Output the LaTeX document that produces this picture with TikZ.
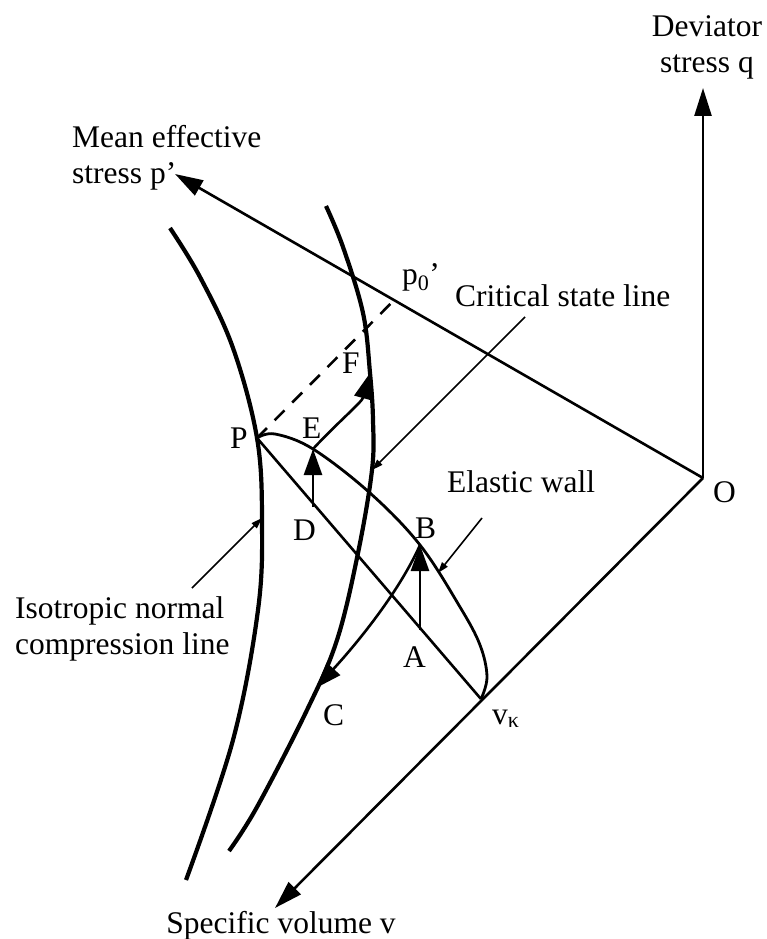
\documentclass[tikz,border=0pt]{standalone}
\usepackage{fontspec}
\setmainfont{Liberation Serif}
\usetikzlibrary{arrows.meta,calc}
\begin{document}
\begin{tikzpicture}[x=1pt,y=-1pt,
  axis/.style={line width=2.6pt,-{Triangle[length=28pt,width=17pt]}},
  thick curve/.style={line width=4.2pt},
  wall/.style={line width=2.8pt},
  pathline/.style={line width=2.6pt},
  move/.style={line width=2.6pt,-{Triangle[length=26pt,width=18pt]}},
  note/.style={line width=1.6pt,-{Triangle[length=11pt,width=7pt]}},
  lbl/.style={font=\fontsize{31.5}{36}\selectfont,inner sep=0pt}]
\useasboundingbox (0,0) rectangle (766,939);

% key points
\coordinate (O) at (703,478);
\coordinate (qtip) at (703,88);
\coordinate (ptip) at (175,174);
\coordinate (vtip) at (275,908);
\coordinate (p0) at ($(O)!0.585!(ptip)$);
\coordinate (P) at (257,438);
\coordinate (vk) at (481,699);
\coordinate (D) at (313,507);
\coordinate (E) at (313,449);
\coordinate (A) at (420,630);
\coordinate (B) at (420,545);
\coordinate (F) at (370,373);
\coordinate (C) at (316,688);

% axes
\draw[axis] (O) -- (qtip);
\draw[axis] (O) -- (ptip);
\draw[axis] (O) -- (vtip);

% isotropic normal compression line
\draw[thick curve] plot[smooth,tension=0.6] coordinates {(170,228) (200,277) (233,348) (257,438) (262,520) (258,610) (233,740) (186,880)};
% critical state line
\draw[thick curve] plot[smooth,tension=0.6] coordinates {(326,206) (343,247) (363,313) (370,373) (373,420) (372,470) (358,553) (337,640) (307,710) (257,807) (229,851)};

% elastic wall
\draw[wall] plot[smooth,tension=0.6] coordinates {(P) (275,434) (E) (370,493) (B) (460,607) (480,645) (487,677) (vk)};

% P -- v_kappa line
\draw[pathline] (P) -- (vk);
% dashed to p0'
\draw[pathline,dashed,dash pattern=on 14pt off 11pt] (P) -- (p0);

% stress paths
\draw[move] (D) -- (E);
\draw[move] (A) -- (B);
\draw[move] (E) .. controls (335,425) and (362,402) .. (F);
\draw[move] (B) .. controls (400,590) and (360,640) .. (C);

% labels
\node[lbl,anchor=north,align=center] (qlbl) at (707,15) {Deviator\\stress q};
\node[lbl,anchor=north west,align=left] (plbl) at (72,125) {Mean effective\\stress p’};
\node[lbl,anchor=base] (vlbl) at (281,933) {Specific volume v};
\node[lbl,anchor=base west] (Olbl) at (713,502) {O};
\node[lbl,anchor=base west] (p0lbl) at (402,284) {p\textsubscript{0}’};
\node[lbl,anchor=base west] (csllbl) at (455,306) {Critical state line};
\node[lbl,anchor=base west] (ewlbl) at (447,492) {Elastic wall};
\node[lbl,anchor=north west,align=left] (ncllbl) at (15,596) {Isotropic normal\\compression line};
\node[lbl,anchor=base west] (Plbl) at (230,448) {P};
\node[lbl,anchor=base west] (Elbl) at (302,438) {E};
\node[lbl,anchor=base west] (Flbl) at (342,373) {F};
\node[lbl,anchor=base west] (Dlbl) at (293,540) {D};
\node[lbl,anchor=base west] (Blbl) at (415,538) {B};
\node[lbl,anchor=base west] (Albl) at (403,667) {A};
\node[lbl,anchor=base west] (Clbl) at (323,725) {C};
\node[lbl,anchor=base west] (vklbl) at (492,724) {v\textsubscript{κ}};

% annotation arrows
\coordinate (cslfrom) at (525,317);
\coordinate (cslto) at (372,470);
\draw[note] (cslfrom) -- (cslto);
\coordinate (ewfrom) at (482,518);
\coordinate (ewto) at (438,573);
\draw[note] (ewfrom) -- (ewto);
\coordinate (nclfrom) at (192,588);
\coordinate (nclto) at (262,518);
\draw[note] (nclfrom) -- (nclto);
\end{tikzpicture}
\end{document}
